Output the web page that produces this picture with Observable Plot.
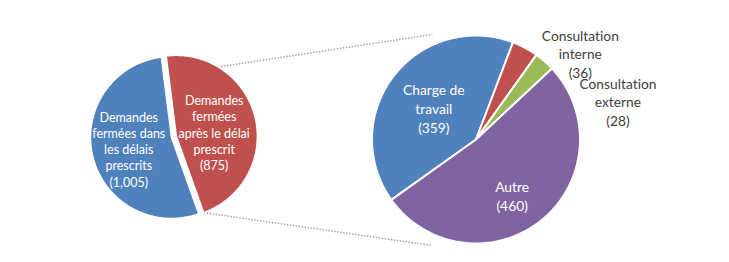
<!DOCTYPE html>
<html><head><meta charset="utf-8">
<script src="https://cdn.jsdelivr.net/npm/d3@7"></script>
<script src="https://cdn.jsdelivr.net/npm/@observablehq/plot@0.6"></script>
<style>body{margin:0;background:#fff} svg text{font-variant-ligatures:none;font-feature-settings:"liga" 0;}</style>
</head><body><div id="chart"></div>
<script>
// ---- Data ----
const mainCategories = ["Demandes\nfermées\naprès le délai\nprescrit", "Demandes\nfermées dans\nles délais\nprescrits"];
const mainValues = [875, 1005];
const mainColors = ["#C0504D", "#4F81BD"];

const subCategories = ["Charge de\ntravail", "Consultation\ninterne", "Consultation\nexterne", "Autre"];
const subValues = [359, 36, 28, 460];
const subColors = ["#4F81BD", "#C0504D", "#9BBB59", "#8064A2"];

// ---- Layout ----
const deg = Math.PI / 180;
const W = 729, H = 262;
const mainPie = {cx: 171, cy: 137, r: 81, start: -7.2 * deg, explode: [5, 0]};
const subPie = {cx: 475.5, cy: 139, r: 104, start: 234.5 * deg, explode: [0, 0, 0, 0]};
// label placement (angle in degrees clockwise from 12 o'clock, radius fraction)
const mainLabelPos = [{a: 84, f: 0.47, inside: true}, {a: 255, f: 0.546, inside: true}];
const subLabelPos = [{a: 306.6, f: 0.505, inside: true}, {a: 50.5, f: 1.30, inside: false}, {a: 75, f: 1.413, inside: false}, {a: 147.3, f: 0.643, inside: true}];
const fmt = d3.format(",");

function build(name, cats, values, colors, pie, labelPos) {
  const arcs = d3.pie().sort(null).startAngle(pie.start).endAngle(pie.start + 2 * Math.PI)(values);
  const pts = [], labels = [];
  arcs.forEach((a, i) => {
    const mid = (a.startAngle + a.endAngle) / 2;
    const e = pie.explode[i] || 0;
    const ox = pie.cx + e * Math.sin(mid), oy = pie.cy - e * Math.cos(mid);
    const key = name + i;
    const n = Math.max(2, Math.ceil((a.endAngle - a.startAngle) / deg));
    pts.push({x: ox, y: oy, key, color: colors[i]});
    for (let k = 0; k <= n; k++) {
      const t = a.startAngle + (a.endAngle - a.startAngle) * k / n;
      pts.push({x: ox + pie.r * Math.sin(t), y: oy - pie.r * Math.cos(t), key, color: colors[i]});
    }
    pts.push({x: ox, y: oy, key, color: colors[i]});
    const lp = labelPos[i];
    labels.push({
      x: ox + lp.f * pie.r * Math.sin(lp.a * deg),
      y: oy - lp.f * pie.r * Math.cos(lp.a * deg),
      text: cats[i] + "\n(" + fmt(values[i]) + ")",
      inside: lp.inside
    });
  });
  return {arcs, pts, labels};
}

const main = build("m", mainCategories, mainValues, mainColors, mainPie, mainLabelPos);
const sub = build("s", subCategories, subValues, subColors, subPie, subLabelPos);

// series lines from the "other" slice to the secondary pie
const other = main.arcs[0];
const otherMid = (other.startAngle + other.endAngle) / 2;
const ocx = mainPie.cx + mainPie.explode[0] * Math.sin(otherMid);
const ocy = mainPie.cy - mainPie.explode[0] * Math.cos(otherMid);
const topA = 31 * deg, botA = other.endAngle;
const seriesLines = [
  {x1: ocx + mainPie.r * Math.sin(topA), y1: ocy - mainPie.r * Math.cos(topA), x2: subPie.cx - 0.42 * subPie.r, y2: subPie.cy - subPie.r - 1},
  {x1: ocx + mainPie.r * Math.sin(botA), y1: ocy - mainPie.r * Math.cos(botA), x2: subPie.cx - 0.42 * subPie.r, y2: subPie.cy + subPie.r + 2}
];

const chart = Plot.plot({
  width: W, height: H, margin: 0,
  x: {domain: [0, W], range: [0, W], axis: null},
  y: {domain: [0, H], range: [0, H], axis: null},
  color: {type: "identity"},
  style: {background: "#fff", fontFamily: "Lato, 'Open Sans', sans-serif"},
  marks: [
    Plot.link(seriesLines, {x1: "x1", y1: "y1", x2: "x2", y2: "y2", stroke: "#A6A6A6", strokeWidth: 1.5, strokeDasharray: "1.5,1.5"}),
    Plot.line(main.pts, {x: "x", y: "y", z: "key", fill: "color", stroke: "white", strokeWidth: 1.5, strokeLinejoin: "round", curve: "linear"}),
    Plot.line(sub.pts, {x: "x", y: "y", z: "key", fill: "color", stroke: "white", strokeWidth: 2, strokeLinejoin: "round", curve: "linear"}),
    Plot.text(main.labels, {x: "x", y: "y", text: "text", fill: "white", fontSize: 12.5, lineHeight: 1.3, textAnchor: "middle"}),
    Plot.text(sub.labels.filter(d => d.inside), {x: "x", y: "y", text: "text", fill: "white", fontSize: 13.8, lineHeight: 1.36, textAnchor: "middle"}),
    Plot.text(sub.labels.filter(d => !d.inside), {x: "x", y: "y", text: "text", fill: "#404040", fontSize: 13.8, lineHeight: 1.34, textAnchor: "middle"})
  ]
});
document.getElementById("chart").appendChild(chart);
</script>
</body></html>
